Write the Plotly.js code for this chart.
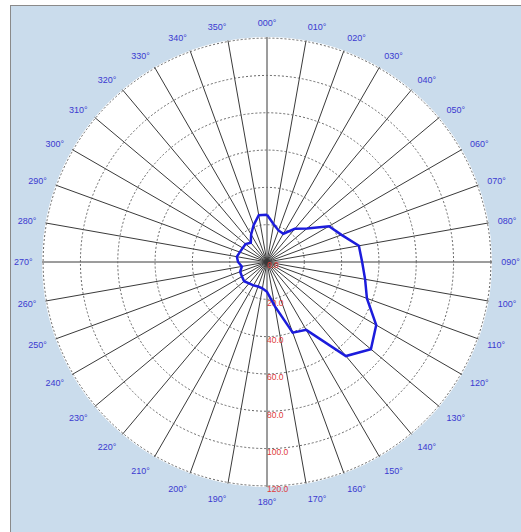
<!DOCTYPE html>
<html>
<head>
<meta charset="utf-8">
<script src="https://cdn.plot.ly/plotly-3.0.1.min.js"></script>
<style>
  html, body { margin: 0; padding: 0; background: #ffffff; width: 521px; height: 532px; overflow: hidden; }
  #frame { position: absolute; left: 10px; top: 5px; width: 510px; height: 526px;
           border-left: 1px solid #8a8a8a; border-top: 1px solid #8a8a8a; background: #cadcec; }
  #chart { width: 510px; height: 526px; }
</style>
</head>
<body>
<div id="frame"><div id="chart"></div></div>
<script>
// Direction (degrees, compass) and radial value of the blue polygon
var directions = [0, 10, 20, 30, 40, 50, 60, 70, 80, 90, 100, 110, 120, 130, 140, 150, 160, 170,
                  180, 190, 200, 210, 220, 230, 240, 250, 260, 270, 280, 290, 300, 310, 320, 330, 340, 350];
var values = [25.3, 20.5, 18.0, 17.5, 23.2, 28.0, 38.4, 42.5, 50.0, 51.0, 53.4, 57.0, 67.6, 72.7, 65.8, 42.0, 40.3, 24.0,
              16.0, 14.3, 14.0, 14.5, 15.0, 16.0, 15.5, 15.3, 13.7, 15.5, 16.4, 15.5, 15.0, 15.0, 13.5, 17.0, 21.0, 25.5];

// Angular tick labels
var angleTicks = [0, 10, 20, 30, 40, 50, 60, 70, 80, 90, 100, 110, 120, 130, 140, 150, 160, 170,
                  180, 190, 200, 210, 220, 230, 240, 250, 260, 270, 280, 290, 300, 310, 320, 330, 340, 350];
var angleLabels = ["000°", "010°", "020°", "030°", "040°", "050°", "060°", "070°", "080°", "090°",
                   "100°", "110°", "120°", "130°", "140°", "150°", "160°", "170°", "180°", "190°",
                   "200°", "210°", "220°", "230°", "240°", "250°", "260°", "270°", "280°", "290°",
                   "300°", "310°", "320°", "330°", "340°", "350°"];
// Radial tick labels (drawn along the 180° spoke)
var radialTicks = [0, 20, 40, 60, 80, 100, 120];
var radialLabels = ["0.0", "20.0", "40.0", "60.0", "80.0", "100.0", "120.0"];
var radialLabelDirection = 180;

var labelTrace = {
  type: 'scatterpolar',
  mode: 'text',
  theta: radialTicks.map(function () { return radialLabelDirection; }),
  r: radialTicks,
  text: radialLabels,
  textposition: 'bottom right',
  textfont: { family: 'Liberation Sans, Arial, sans-serif', size: 8.5, color: '#e03a3a' },
  cliponaxis: false,
  hoverinfo: 'skip',
  showlegend: false
};

var trace = {
  type: 'scatterpolar',
  mode: 'lines',
  theta: directions.concat([directions[0]]),
  r: values.concat([values[0]]),
  line: { color: '#1c1cdc', width: 2.5 },
  hoverinfo: 'skip',
  showlegend: false
};

var layout = {
  width: 510, height: 526,
  margin: { l: 31, r: 29, t: 31, b: 45 },
  paper_bgcolor: '#cadcec',
  showlegend: false,
  polar: {
    bgcolor: '#ffffff',
    domain: { x: [0, 1], y: [0, 1] },
    angularaxis: {
      rotation: 90,
      direction: 'clockwise',
      tickmode: 'array',
      tickvals: angleTicks,
      ticktext: angleLabels,
      tickfont: { family: 'Liberation Sans, Arial, sans-serif', size: 9, color: '#3a3ad0' },
      ticks: 'outside', ticklen: 7, tickcolor: 'rgba(0,0,0,0)',
      showgrid: true, gridcolor: '#3a3a3a', gridwidth: 1,
      showline: false
    },
    radialaxis: {
      range: [0, 120.6],
      angle: -90,
      tickmode: 'array',
      tickvals: radialTicks,
      showticklabels: false,
      ticks: '',
      showline: false,
      showgrid: true, gridcolor: '#666666', gridwidth: 1, griddash: '2px,2px'
    }
  }
};

Plotly.newPlot('chart', [labelTrace, trace], layout, { staticPlot: true, displayModeBar: false });
</script>
</body>
</html>
